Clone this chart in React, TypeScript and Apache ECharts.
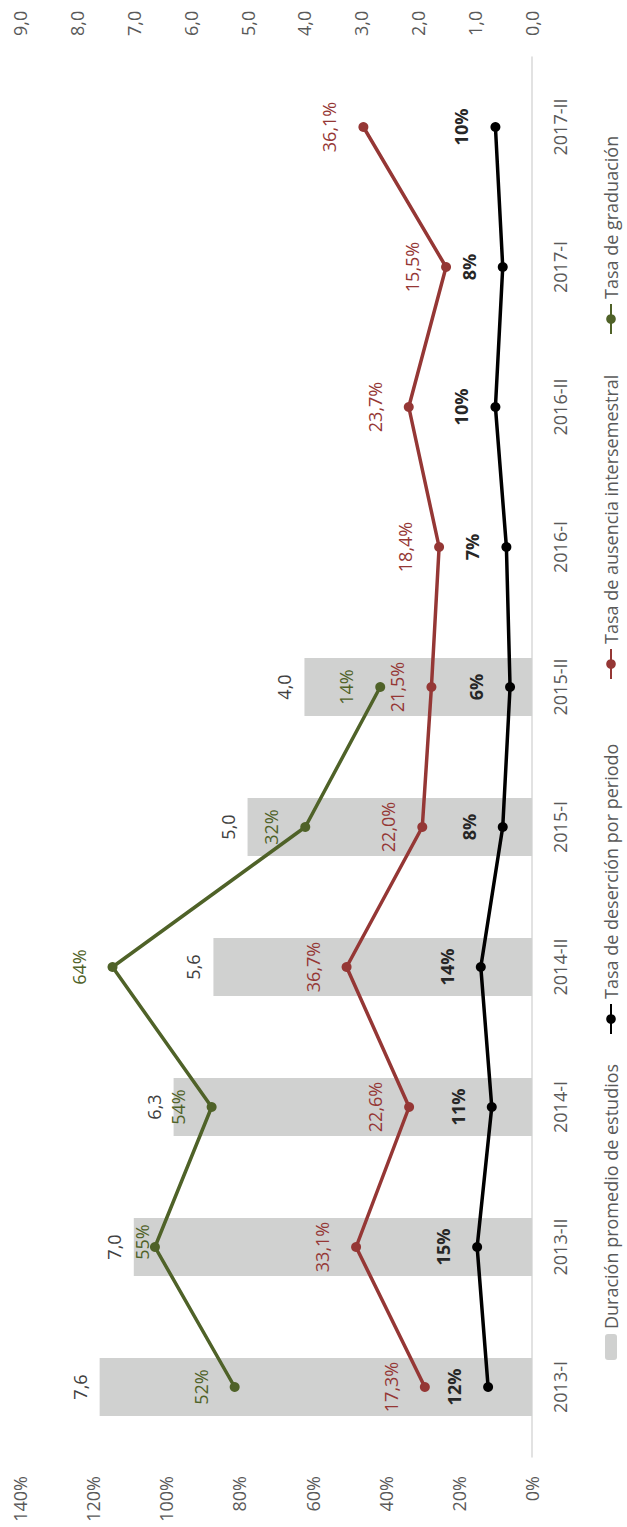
import React, { useEffect, useRef } from "react";
import * as echarts from "echarts";

const categories = ["2013-I", "2013-II", "2014-I", "2014-II", "2015-I", "2015-II", "2016-I", "2016-II", "2017-I", "2017-II"];
const duracion = [7.6, 7.0, 6.3, 5.6, 5.0, 4.0, null, null, null, null];
const desercion = [12, 15, 11, 14, 8, 6, 7, 10, 8, 10];
const ausencia = [17.3, 33.1, 22.6, 36.7, 22.0, 21.5, 18.4, 23.7, 15.5, 36.1];
const graduacion = [52, 55, 54, 64, 32, 14, null, null, null, null];
const seriesNames = [
  "Duración promedio de estudios",
  "Tasa de deserción por periodo",
  "Tasa de ausencia intersemestral",
  "Tasa de graduación",
];
const leftTicks = { min: 0, max: 140, interval: 20 };
const rightTicks = { min: 0, max: 9, interval: 1 };

const FONT = "Open Sans";
const FS = 18;
const comma = (v: number, d: number) => v.toFixed(d).replace(".", ",");
const legendLefts = [162, 487, 842, 1187];

export default function App() {
  const ref = useRef<HTMLDivElement>(null);
  useEffect(() => {
    if (!ref.current) return;
    const chart = echarts.init(ref.current, null, { renderer: "svg" });
    const option: any = {
      animation: false,
      textStyle: { fontFamily: FONT },
      grid: { left: 70, right: 57, top: 20, bottom: 95 },
      legend: seriesNames.map((n, i) => ({
        data: [n],
        left: legendLefts[i],
        bottom: 2,
        itemWidth: i === 0 ? 26 : 30,
        itemHeight: 12,
        itemGap: 0,
        textStyle: { fontSize: 18, color: "#595959", fontFamily: FONT },
      })),
      xAxis: {
        type: "category",
        data: categories,
        axisLine: { lineStyle: { color: "#D9D9D9", width: 1.5 } },
        axisTick: { length: 7, lineStyle: { color: "#D9D9D9", width: 1.5 } },
        axisLabel: { color: "#595959", fontSize: FS, margin: 19, interval: 0 },
      },
      yAxis: [
        {
          type: "value",
          ...leftTicks,
          axisLabel: { formatter: "{value}%", color: "#595959", fontSize: FS, margin: 19 },
          splitLine: { show: false },
          axisLine: { show: false },
          axisTick: { show: false },
        },
        {
          type: "value",
          position: "right",
          ...rightTicks,
          axisLabel: { formatter: (v: number) => comma(v, 1), color: "#595959", fontSize: FS, margin: 21 },
          splitLine: { show: false },
          axisLine: { show: false },
          axisTick: { show: false },
        },
      ],
      series: [
        {
          name: seriesNames[0],
          type: "bar",
          yAxisIndex: 1,
          data: duracion,
          barWidth: 58,
          itemStyle: { color: "#D0D1D0" },
          z: 1,
          label: {
            show: true,
            position: "top",
            distance: 11,
            color: "#404040",
            fontSize: FS,
            formatter: (p: any) => comma(p.value, 1),
          },
        },
        {
          name: seriesNames[1],
          type: "line",
          stack: "total",
          data: desercion,
          z: 3,
          symbol: "circle",
          symbolSize: 10,
          itemStyle: { color: "#000000" },
          lineStyle: { color: "#000000", width: 3.5 },
          label: {
            show: true,
            position: "top",
            distance: 20,
            color: "#262626",
            fontWeight: "bold",
            fontSize: FS,
            formatter: (p: any) => p.value + "%",
          },
        },
        {
          name: seriesNames[2],
          type: "line",
          stack: "total",
          data: ausencia,
          z: 3,
          symbol: "circle",
          symbolSize: 10,
          itemStyle: { color: "#953735" },
          lineStyle: { color: "#953735", width: 3.5 },
          label: {
            show: true,
            position: "top",
            distance: 20,
            color: "#953735",
            fontSize: FS,
            formatter: (p: any) => comma(p.value, 1) + "%",
          },
        },
        {
          name: seriesNames[3],
          type: "line",
          stack: "total",
          data: graduacion.map((v, i) =>
            i === 1 && v !== null ? { value: v, label: { offset: [5, 21] } } : v
          ),
          z: 3,
          symbol: "circle",
          symbolSize: 10,
          itemStyle: { color: "#4F6228" },
          lineStyle: { color: "#4F6228", width: 3.5 },
          label: {
            show: true,
            position: "top",
            distance: 20,
            color: "#4F6228",
            fontSize: FS,
            formatter: (p: any) => p.value + "%",
          },
        },
      ],
    };
    chart.setOption(option);
    return () => chart.dispose();
  }, []);

  return (
    <div style={{ position: "absolute", left: 0, top: 0, width: 627, height: 1527, overflow: "hidden", background: "#fff" }}>
      <div
        ref={ref}
        style={{
          position: "absolute",
          left: 0,
          top: 0,
          width: 1527,
          height: 627,
          transformOrigin: "0 0",
          transform: "translateY(1527px) rotate(-90deg)",
        }}
      />
    </div>
  );
}
